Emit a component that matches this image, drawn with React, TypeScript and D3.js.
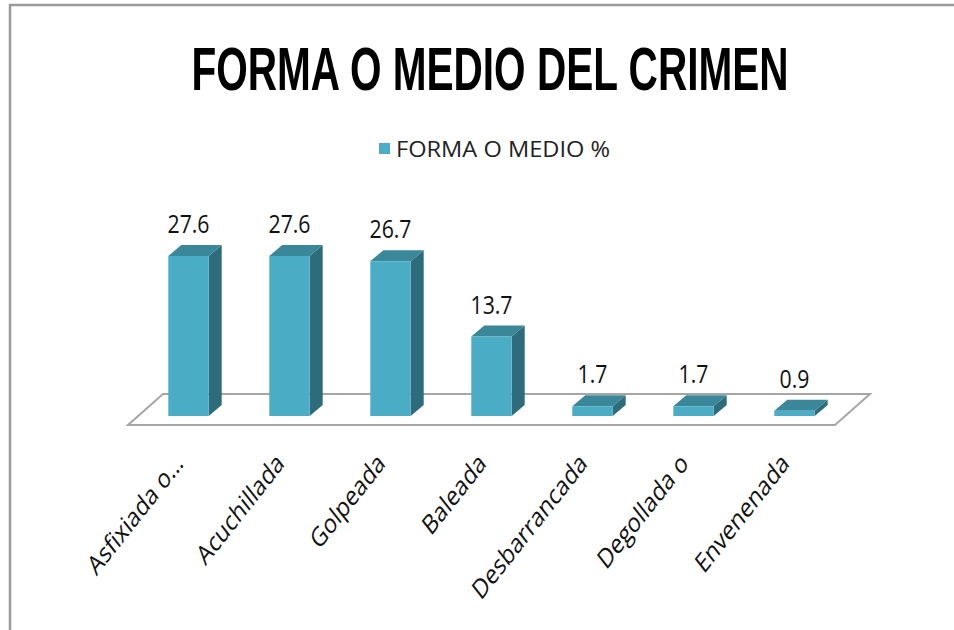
import React from "react";
import * as d3 from "d3";

const categories = ["Asfixiada o…", "Acuchillada", "Golpeada", "Baleada", "Desbarrancada", "Degollada o", "Envenenada"];
const values = [27.6, 27.6, 26.7, 13.7, 1.7, 1.7, 0.9];
const title = "FORMA O MEDIO DEL CRIMEN";
const seriesName = "FORMA O MEDIO %";

const W = 954;
const H = 630;

export default function App() {
  const x = d3.scaleBand<string>().domain(categories).range([138, 845]).paddingInner(0.6).paddingOuter(0.3);
  const y = d3.scaleLinear().domain([0, 30]).range([416, 416 - 30 * 5.797]);
  const base = y(0);
  const [x0, x1] = x.range();
  const depth = { dx: 13, dy: -11 };
  const front = { dx: -10, dy: 9 };
  const back = { dx: 25, dy: -22 };
  const floor = [
    [x0 + front.dx, base + front.dy],
    [x1 + front.dx, base + front.dy],
    [x1 + back.dx, base + back.dy],
    [x0 + back.dx, base + back.dy],
  ];
  const line = d3.line();
  const bw = x.bandwidth();

  return (
    <svg width={W} height={H} style={{ position: "absolute", left: 0, top: 0, background: "#fff" }}>
      <rect x={10} y={5} width={1000} height={700} fill="#fff" stroke="#9a9a9a" strokeWidth={2.5} />
      <text
        transform="translate(490,90) scale(0.665,1)"
        textAnchor="middle"
        fontFamily="'Liberation Sans', Arial, sans-serif"
        fontWeight="bold"
        fontSize={61}
        fill="#000"
      >
        {title}
      </text>
      <rect x={379} y={143} width={11} height={11} fill="#4BACC6" />
      <text
        x={396}
        y={157}
        fontFamily="'Open Sans', sans-serif"
        fontSize={22}
        textLength={214}
        lengthAdjust="spacingAndGlyphs"
        fill="#222"
      >
        {seriesName}
      </text>
      <path d={line(floor as [number, number][]) + "Z"} fill="#fff" stroke="#a6a6a6" strokeWidth={2} />
      {categories.map((c, i) => {
        const bx = x(c)!;
        const top = y(values[i]);
        const frontPts: [number, number][] = [[bx, top], [bx + bw, top], [bx + bw, base], [bx, base]];
        const topPts: [number, number][] = [
          [bx, top],
          [bx + depth.dx, top + depth.dy],
          [bx + bw + depth.dx, top + depth.dy],
          [bx + bw, top],
        ];
        const sidePts: [number, number][] = [
          [bx + bw, top],
          [bx + bw + depth.dx, top + depth.dy],
          [bx + bw + depth.dx, base + depth.dy],
          [bx + bw, base],
        ];
        return (
          <g key={c}>
            <path d={line(sidePts) + "Z"} fill="#2F6C7B" />
            <path d={line(topPts) + "Z"} fill="#3A8799" />
            <path d={line(frontPts) + "Z"} fill="#4BACC6" />
            <text
              transform={`translate(${bx + bw / 2},${top + depth.dy - 12}) scale(0.85,1)`}
              textAnchor="middle"
              fontFamily="'Open Sans', sans-serif"
              fontSize={25}
              fill="#111"
            >
              {values[i].toFixed(1)}
            </text>
            <text
              transform={`translate(${bx + bw / 2 - 4},${465}) scale(0.79,1) rotate(-45)`}
              textAnchor="end"
              fontFamily="'Open Sans', sans-serif"
              fontSize={27}
              fill="#111"
            >
              {c}
            </text>
          </g>
        );
      })}
    </svg>
  );
}
